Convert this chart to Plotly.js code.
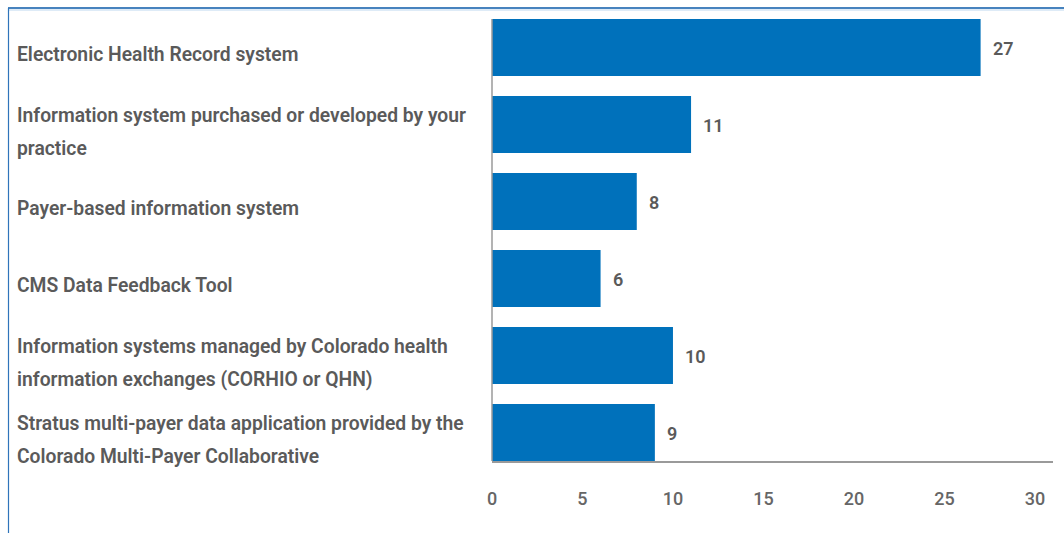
<!DOCTYPE html>
<html>
<head>
<meta charset="utf-8">
<script src="https://cdn.plot.ly/plotly-3.0.1.min.js"></script>
<style>html,body{margin:0;padding:0;background:#fff;}#chart{width:1064px;height:533px;}</style>
</head>
<body>
<div id="chart"></div>
<script>
// Data
const categoryLines = [
  ["Electronic Health Record system"],
  ["Information system purchased or developed by your", "practice"],
  ["Payer-based information system"],
  ["CMS Data Feedback Tool"],
  ["Information systems managed by Colorado health", "information exchanges (CORHIO or QHN)"],
  ["Stratus multi-payer data application provided by the", "Colorado Multi-Payer Collaborative"]
];
const categories = categoryLines.map(l => l.join(" "));
const values = [27, 11, 8, 6, 10, 9];
const xTicks = [0, 5, 10, 15, 20, 25, 30];

// Layout geometry (pixels)
const W = 1064, H = 533;
const L = 492, R = 11, T = 9, B = 72;
const plotW = W - L - R, plotH = H - T - B;
const px2x = p => (p - L) / plotW;
const py2y = p => (H - B - p) / plotH;

const textColor = "#5a5a5a";
const fontFam = "Roboto, 'Open Sans', sans-serif";

const trace = {
  type: "bar",
  orientation: "h",
  y: categories,
  x: values,
  marker: {color: "#0071BB"},
  width: 0.74,
  hoverinfo: "skip"
};

const annotations = [];
categoryLines.forEach((lines, i) => {
  lines.forEach((line, j) => {
    annotations.push({
      xref: "paper", yref: "y",
      x: px2x(15), y: categories[i],
      xanchor: "left", yanchor: "middle",
      text: line, showarrow: false,
      yshift: -7 - (j - (lines.length - 1) / 2) * 33,
      font: {family: fontFam, size: 19.3, color: textColor, weight: 600}
    });
  });
});
values.forEach((v, i) => {
  annotations.push({
    xref: "x", yref: "y", x: v, y: categories[i],
    xanchor: "left", yanchor: "middle",
    text: String(v), showarrow: false, xshift: 10, yshift: -1,
    font: {family: fontFam, size: 18, color: textColor, weight: 600}
  });
});

const layout = {
  width: W, height: H,
  margin: {l: L, r: R, t: T, b: B, pad: 0},
  paper_bgcolor: "#fff", plot_bgcolor: "#fff",
  showlegend: false,
  bargap: 0.26,
  xaxis: {
    range: [0, 31],
    tickvals: xTicks,
    ticktext: xTicks.map(String),
    showgrid: false, zeroline: false,
    showline: true, linecolor: "#9a9a9a", linewidth: 1.5,
    ticks: "", ticklabelstandoff: 21,
    tickfont: {family: fontFam, size: 18, color: "#666", weight: 500},
    fixedrange: true
  },
  yaxis: {
    autorange: false,
    range: [5.37, -0.5],
    showticklabels: false, showgrid: false, zeroline: false, showline: false,
    ticks: "", fixedrange: true
  },
  annotations: annotations,
  shapes: [
    {type: "line", xref: "paper", yref: "paper", x0: 0, x1: 0, y0: 0, y1: py2y(19),
     line: {color: "#9a9a9a", width: 1.5}},
    {type: "line", xref: "paper", yref: "paper", x0: px2x(8), x1: px2x(1064), y0: py2y(10), y1: py2y(10),
     line: {color: "#d3e4f4", width: 1.5}},
    {type: "line", xref: "paper", yref: "paper", x0: px2x(8), x1: px2x(1064), y0: py2y(8), y1: py2y(8),
     line: {color: "#0a5aa8", width: 1.5}},
    {type: "line", xref: "paper", yref: "paper", x0: px2x(8.5), x1: px2x(8.5), y0: py2y(8), y1: py2y(533),
     line: {color: "#2f74ba", width: 1.2}}
  ]
};

Plotly.newPlot("chart", [trace], layout, {displayModeBar: false, staticPlot: true});
</script>
</body>
</html>
